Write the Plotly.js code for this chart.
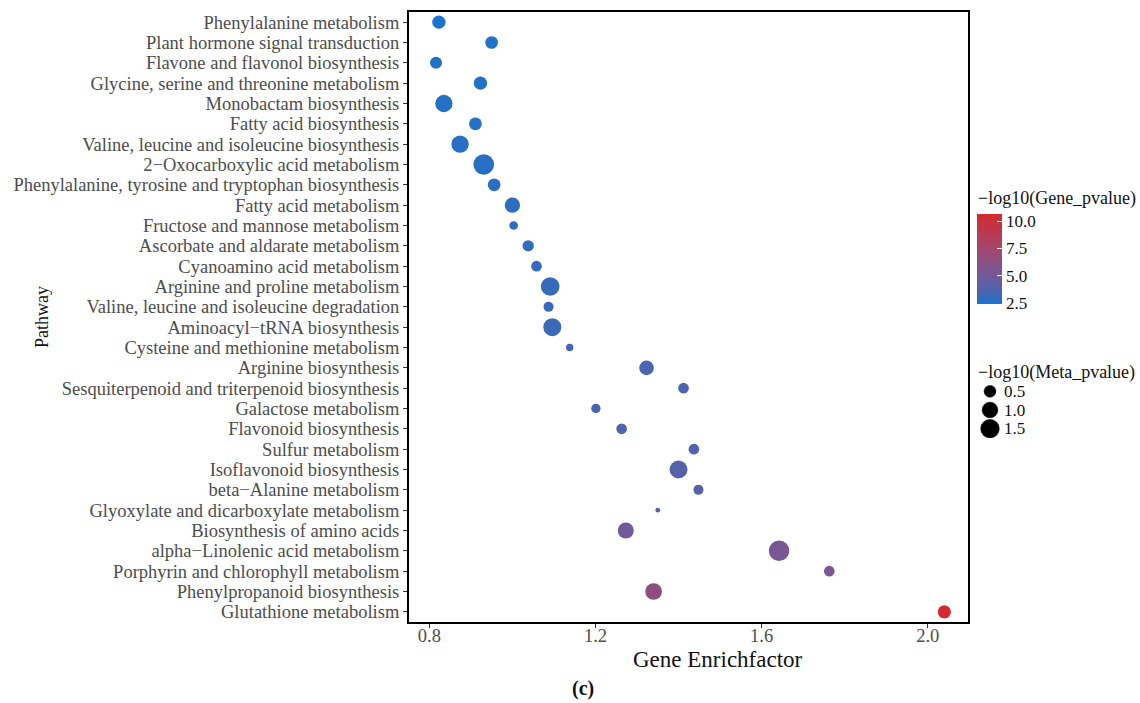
<!DOCTYPE html>
<html>
<head>
<meta charset="utf-8">
<script src="https://cdn.plot.ly/plotly-3.0.1.min.js"></script>
<style>
  html, body { margin: 0; padding: 0; background: #fff; }
  #chart { width: 1140px; height: 703px; }
</style>
</head>
<body>
<div id="chart"></div>
<script>
// KEGG pathway enrichment bubble chart
const pathways = [
  "Phenylalanine metabolism",
  "Plant hormone signal transduction",
  "Flavone and flavonol biosynthesis",
  "Glycine, serine and threonine metabolism",
  "Monobactam biosynthesis",
  "Fatty acid biosynthesis",
  "Valine, leucine and isoleucine biosynthesis",
  "2\u2212Oxocarboxylic acid metabolism",
  "Phenylalanine, tyrosine and tryptophan biosynthesis",
  "Fatty acid metabolism",
  "Fructose and mannose metabolism",
  "Ascorbate and aldarate metabolism",
  "Cyanoamino acid metabolism",
  "Arginine and proline metabolism",
  "Valine, leucine and isoleucine degradation",
  "Aminoacyl\u2212tRNA biosynthesis",
  "Cysteine and methionine metabolism",
  "Arginine biosynthesis",
  "Sesquiterpenoid and triterpenoid biosynthesis",
  "Galactose metabolism",
  "Flavonoid biosynthesis",
  "Sulfur metabolism",
  "Isoflavonoid biosynthesis",
  "beta\u2212Alanine metabolism",
  "Glyoxylate and dicarboxylate metabolism",
  "Biosynthesis of amino acids",
  "alpha\u2212Linolenic acid metabolism",
  "Porphyrin and chlorophyll metabolism",
  "Phenylpropanoid biosynthesis",
  "Glutathione metabolism"
];

const geneEnrichFactor = [
  0.823, 0.950, 0.816, 0.923, 0.835, 0.911, 0.874, 0.931, 0.956, 1.000,
  1.003, 1.038, 1.058, 1.091, 1.087, 1.096, 1.138, 1.323, 1.412, 1.201,
  1.263, 1.437, 1.400, 1.448, 1.350, 1.273, 1.642, 1.763, 1.340, 2.040
];

// -log10(Gene_pvalue): colour
const geneLogP = [
  2.41, 2.55, 2.60, 2.62, 2.65, 2.70, 2.72, 2.75, 2.80, 2.85,
  2.90, 2.95, 3.00, 3.05, 3.10, 3.15, 3.30, 3.45, 3.50, 3.52,
  3.60, 3.75, 3.95, 4.05, 4.25, 5.00, 5.40, 5.50, 6.40, 10.64
];

// -log10(Meta_pvalue): point size
const metaLogP = [
  0.67, 0.60, 0.52, 0.67, 1.27, 0.60, 1.27, 1.95, 0.60, 0.94,
  0.26, 0.46, 0.40, 1.53, 0.35, 1.39, 0.20, 0.85, 0.40, 0.30,
  0.40, 0.40, 1.39, 0.35, 0.15, 1.05, 1.90, 0.40, 1.16, 0.67
];

const xTicks = [0.8, 1.2, 1.6, 2.0];
const geneTicks = [2.5, 5.0, 7.5, 10.0];
const metaBreaks = [0.5, 1.0, 1.5];

const SERIF = '"Liberation Serif", "Times New Roman", serif';

// area-style size scale: diameter grows with the square root of the value
const SIZE_MIN_V = 0.15, SIZE_MAX_V = 1.95, D_MIN = 4.7, D_MAX = 20.7;
function bubbleDiameter(v) {
  const r = Math.max(0, Math.min(1, (v - SIZE_MIN_V) / (SIZE_MAX_V - SIZE_MIN_V)));
  return D_MIN + (D_MAX - D_MIN) * Math.sqrt(r);
}

const colorscale = [
  [0.00, '#1874CD'],
  [0.12, '#4766B2'],
  [0.32, '#725A98'],
  [0.62, '#A5466C'],
  [1.00, '#D42A2E']
];
const cmin = Math.min(...geneLogP);
const cmax = Math.max(...geneLogP);

// pixel geometry of the figure
const FIG_W = 1140, FIG_H = 703;
const M = { l: 409, r: 0, t: 12, b: 81 };
const paperW = FIG_W - M.l - M.r;
const paperH = FIG_H - M.t - M.b;
const px2x = px => (px - M.l) / paperW;
const px2y = py => (FIG_H - M.b - py) / paperH;

const mainTrace = {
  type: 'scatter',
  mode: 'markers',
  x: geneEnrichFactor,
  y: pathways,
  xaxis: 'x',
  yaxis: 'y',
  hoverinfo: 'x+y',
  marker: {
    size: metaLogP.map(bubbleDiameter),
    sizemode: 'diameter',
    color: geneLogP,
    colorscale: colorscale,
    cmin: cmin,
    cmax: cmax,
    opacity: 1,
    line: { width: 0 },
    showscale: true,
    colorbar: {
      x: px2x(977), xanchor: 'left', xpad: 0,
      y: px2y(259), yanchor: 'middle', ypad: 0,
      len: 90, lenmode: 'pixels',
      thickness: 25, thicknessmode: 'pixels',
      outlinewidth: 0,
      tickmode: 'array',
      tickvals: geneTicks,
      ticktext: geneTicks.map(v => v.toFixed(1)),
      ticks: 'inside', ticklen: 5, tickwidth: 1, tickcolor: '#ffffff',
      tickfont: { family: SERIF, size: 17, color: '#111' },
      title: { text: '' }
    }
  }
};

// size legend drawn on its own small axes so dot sizes follow the same scale
const sizeLegend = {
  type: 'scatter',
  mode: 'markers',
  x: metaBreaks.map(() => 0),
  y: metaBreaks,
  xaxis: 'x2',
  yaxis: 'y2',
  hoverinfo: 'skip',
  marker: {
    size: metaBreaks.map(bubbleDiameter),
    sizemode: 'diameter',
    color: '#000000',
    opacity: 1,
    line: { width: 0.6, color: '#000000' }
  }
};

const axisFont = { family: SERIF, size: 18.5, color: '#4D4D4D' };

const annotations = [
  { text: 'Gene Enrichfactor', xref: 'paper', yref: 'paper',
    x: px2x(718), y: px2y(659), xanchor: 'center', yanchor: 'middle',
    showarrow: false, font: { family: SERIF, size: 23, color: '#111' } },
  { text: '<b>(c)</b>', xref: 'paper', yref: 'paper',
    x: px2x(583), y: px2y(688), xanchor: 'center', yanchor: 'middle',
    showarrow: false, font: { family: SERIF, size: 20, color: '#111' } },
  { text: 'Pathway', xref: 'paper', yref: 'paper',
    x: px2x(42), y: px2y(317), xanchor: 'center', yanchor: 'middle',
    textangle: -90, showarrow: false, font: { family: SERIF, size: 18, color: '#111' } },
  { text: '\u2212log10(Gene_pvalue)', xref: 'paper', yref: 'paper',
    x: px2x(976), y: px2y(198), xanchor: 'left', yanchor: 'middle',
    showarrow: false, font: { family: SERIF, size: 18, color: '#111' } },
  { text: '\u2212log10(Meta_pvalue)', xref: 'paper', yref: 'paper',
    x: px2x(976), y: px2y(372), xanchor: 'left', yanchor: 'middle',
    showarrow: false, font: { family: SERIF, size: 18, color: '#111' } }
].concat(metaBreaks.map(v => ({
  text: v.toFixed(1), xref: 'x2', yref: 'y2', x: 12, y: v,
  xanchor: 'left', yanchor: 'middle', showarrow: false,
  font: { family: SERIF, size: 17, color: '#111' }
})));

const layout = {
  width: FIG_W,
  height: FIG_H,
  margin: M,
  paper_bgcolor: '#ffffff',
  plot_bgcolor: '#ffffff',
  showlegend: false,
  xaxis: {
    domain: [0, px2x(968)],
    range: [0.751, 2.097],
    tickmode: 'array',
    tickvals: xTicks,
    ticktext: xTicks.map(v => v.toFixed(1)),
    ticks: 'outside', ticklen: 4, tickwidth: 1.2, tickcolor: '#333',
    ticklabelstandoff: -8,
    showline: true, mirror: true, linecolor: '#000', linewidth: 2,
    showgrid: false, zeroline: false,
    tickfont: axisFont,
    automargin: false,
    anchor: 'y'
  },
  yaxis: {
    type: 'category',
    range: [pathways.length - 0.5, -0.5],
    tickmode: 'array',
    tickvals: pathways,
    ticktext: pathways,
    ticks: 'outside', ticklen: 4, tickwidth: 1.2, tickcolor: '#333',
    showline: true, mirror: true, linecolor: '#000', linewidth: 2,
    showgrid: false, zeroline: false,
    tickfont: axisFont,
    automargin: false,
    anchor: 'x'
  },
  xaxis2: {
    domain: [px2x(975), 1],
    range: [-15, 150],
    visible: false,
    fixedrange: true,
    anchor: 'y2'
  },
  yaxis2: {
    domain: [px2y(438), px2y(382)],
    range: [1.75, 0.25],
    visible: false,
    fixedrange: true,
    anchor: 'x2'
  },
  annotations: annotations
};

Plotly.newPlot('chart', [mainTrace, sizeLegend], layout, { displayModeBar: false, staticPlot: true });
</script>
</body>
</html>
